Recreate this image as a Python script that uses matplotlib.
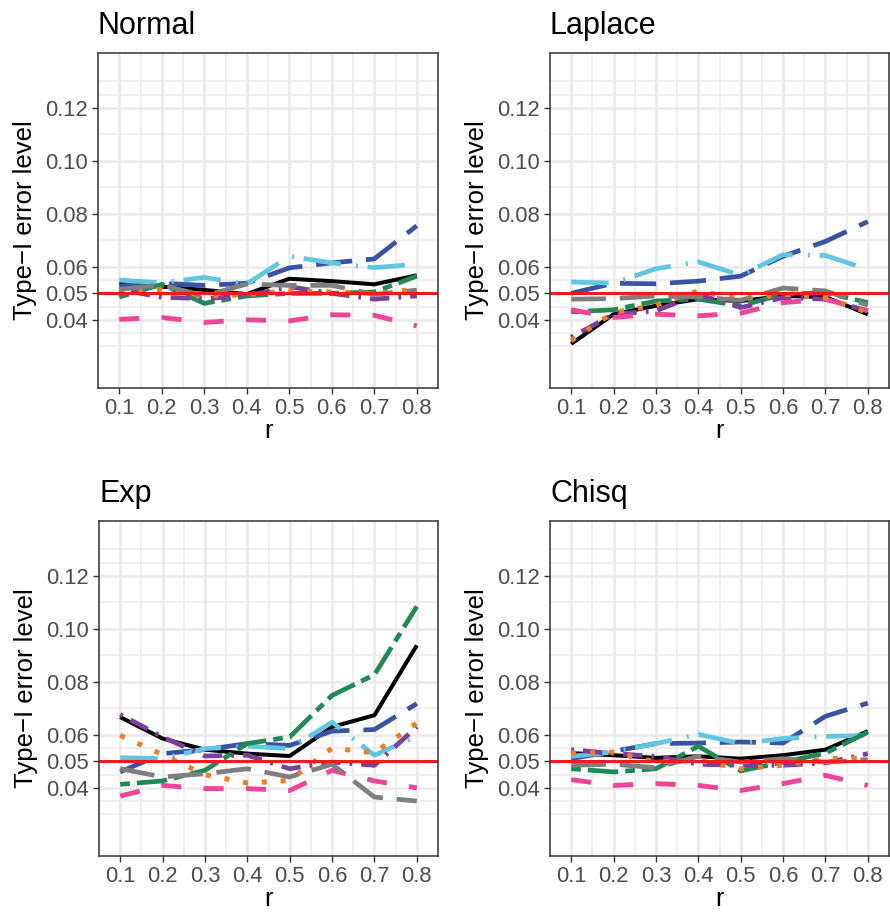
import matplotlib
matplotlib.use('Agg')
import matplotlib.pyplot as plt
import numpy as np

plt.rcParams['font.family'] = ['Liberation Sans', 'DejaVu Sans']
plt.rcParams['lines.scale_dashes'] = False

r = [0.1, 0.2, 0.3, 0.4, 0.5, 0.6, 0.7, 0.8]
titles = ['Normal', 'Laplace', 'Exp', 'Chisq']
yticks = [0.04, 0.05, 0.06, 0.08, 0.10, 0.12]
ytick_labels = ['0.04', '0.05', '0.06', '0.08', '0.10', '0.12']

# series order: black, blue, cyan, green, purple, pink, orange, gray
normal = [
    [0.0538, 0.0525, 0.0513, 0.0497, 0.0555, 0.0546, 0.0534, 0.0568],
    [0.0528, 0.0538, 0.0530, 0.0538, 0.0596, 0.0615, 0.0630, 0.0755],
    [0.0550, 0.0540, 0.0560, 0.0535, 0.0640, 0.0615, 0.0597, 0.0610],
    [0.0486, 0.0534, 0.0462, 0.0490, 0.0500, 0.0500, 0.0505, 0.0565],
    [0.0515, 0.0485, 0.0480, 0.0490, 0.0525, 0.0500, 0.0478, 0.0490],
    [0.0402, 0.0409, 0.0390, 0.0400, 0.0396, 0.0419, 0.0417, 0.0377],
    [0.0510, 0.0515, 0.0490, 0.0495, 0.0510, 0.0505, 0.0500, 0.0515],
    [0.0515, 0.0532, 0.0490, 0.0535, 0.0530, 0.0530, 0.0496, 0.0512],
]
laplace = [
    [0.0309, 0.0421, 0.0453, 0.0478, 0.0471, 0.0490, 0.0486, 0.0421],
    [0.0500, 0.0538, 0.0536, 0.0546, 0.0565, 0.0640, 0.0696, 0.0771],
    [0.0543, 0.0538, 0.0593, 0.0619, 0.0568, 0.0646, 0.0643, 0.0590],
    [0.0430, 0.0438, 0.0471, 0.0478, 0.0453, 0.0496, 0.0503, 0.0465],
    [0.0334, 0.0421, 0.0434, 0.0496, 0.0446, 0.0484, 0.0478, 0.0434],
    [0.0438, 0.0409, 0.0421, 0.0415, 0.0425, 0.0465, 0.0478, 0.0434],
    [0.0321, 0.0428, 0.0455, 0.0509, 0.0478, 0.0496, 0.0484, 0.0428],
    [0.0478, 0.0480, 0.0490, 0.0486, 0.0474, 0.0520, 0.0509, 0.0455],
]
exp = [
    [0.0667, 0.0586, 0.0544, 0.0529, 0.0520, 0.0630, 0.0674, 0.0938],
    [0.0460, 0.0529, 0.0544, 0.0567, 0.0560, 0.0614, 0.0620, 0.0718],
    [0.0514, 0.0510, 0.0548, 0.0557, 0.0548, 0.0648, 0.0523, 0.0594],
    [0.0413, 0.0426, 0.0466, 0.0567, 0.0592, 0.0749, 0.0827, 0.1085],
    [0.0677, 0.0592, 0.0520, 0.0523, 0.0472, 0.0497, 0.0485, 0.0630],
    [0.0369, 0.0409, 0.0397, 0.0397, 0.0390, 0.0466, 0.0426, 0.0400],
    [0.0598, 0.0525, 0.0450, 0.0418, 0.0428, 0.0550, 0.0532, 0.0645],
    [0.0472, 0.0441, 0.0453, 0.0472, 0.0441, 0.0489, 0.0365, 0.0350],
]
chisq = [
    [0.0531, 0.0523, 0.0513, 0.0519, 0.0510, 0.0523, 0.0544, 0.0614],
    [0.0510, 0.0538, 0.0567, 0.0569, 0.0573, 0.0569, 0.0670, 0.0720],
    [0.0519, 0.0535, 0.0567, 0.0602, 0.0567, 0.0586, 0.0594, 0.0598],
    [0.0472, 0.0460, 0.0472, 0.0557, 0.0464, 0.0497, 0.0531, 0.0610],
    [0.0544, 0.0529, 0.0519, 0.0489, 0.0485, 0.0485, 0.0494, 0.0529],
    [0.0431, 0.0409, 0.0416, 0.0409, 0.0390, 0.0416, 0.0447, 0.0409],
    [0.0531, 0.0535, 0.0497, 0.0504, 0.0472, 0.0485, 0.0510, 0.0513],
    [0.0485, 0.0489, 0.0476, 0.0519, 0.0497, 0.0510, 0.0497, 0.0506],
]
panels = [normal, laplace, exp, chisq]

colors = ['#000000', '#3A52A4', '#62C6E2', '#1F8A55', '#7C3F9C',
          '#EE4598', '#F07D23', '#7F7F7F']
widths = [2.9, 3.4, 3.4, 3.4, 3.4, 3.5, 3.6, 3.4]
dashes = [None, (26, 10), (27, 11, 1.5, 7), (7, 5, 22, 5), (2, 6.5, 14, 6.5),
          (14.5, 16), (3.6, 10), (25, 10)]

W, H = 890, 913
boxes = [(98, 438, 53, 388), (550, 889, 53, 388),
         (99, 438, 521, 856), (550, 889, 521, 856)]

fig = plt.figure(figsize=(W / 100, H / 100), dpi=100)
for k, (l, rt, t, b) in enumerate(boxes):
    ax = fig.add_axes([l / W, 1 - b / H, (rt - l) / W, (b - t) / H])
    ax.set_axisbelow(True)
    for i, vals in enumerate(panels[k]):
        ln, = ax.plot(r, vals, color=colors[i], lw=widths[i],
                      solid_capstyle='butt', dash_capstyle='butt',
                      solid_joinstyle='round', dash_joinstyle='round')
        if dashes[i] is not None:
            ln.set_dashes(dashes[i])
    ax.axhline(0.05, color='#F21A1A', lw=2.2)
    ax.set_xlim(0.065, 0.835)
    ax.set_ylim(0.01425, 0.14075)
    ax.set_xticks(r)
    ax.set_xticklabels([str(v) for v in r])
    ax.set_yticks(yticks)
    ax.set_yticklabels(ytick_labels)
    ax.set_xticks(np.arange(0.05, 0.86, 0.05), minor=True)
    ax.set_yticks([0.03, 0.035, 0.045, 0.055, 0.07, 0.09, 0.11, 0.125, 0.13], minor=True)
    ax.grid(True, which='major', color='#EBEBEB', lw=1.9)
    ax.grid(True, which='minor', color='#EBEBEB', lw=1.1)
    ax.tick_params(which='minor', length=0)
    ax.tick_params(which='major', length=4.3, width=1, color='#333333',
                   labelsize=15.8, labelcolor='#4D4D4D', pad=3)
    for s in ax.spines.values():
        s.set_color('#333333')
        s.set_linewidth(1.1)
    ax.set_xlabel('r', fontsize=18.5, labelpad=0)
    ax.set_ylabel('Type\u2212I error level', fontsize=18.5, labelpad=6)
    ax.set_title(titles[k], loc='left', fontsize=22, pad=14)

fig.savefig('out.png', dpi=100)
